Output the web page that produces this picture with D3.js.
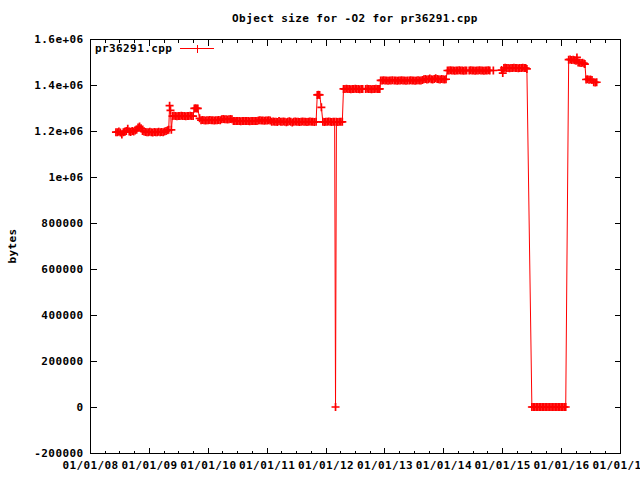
<!DOCTYPE html>
<html><head><meta charset="utf-8">
<script src="https://cdn.jsdelivr.net/npm/d3@7"></script>
<style>
body{margin:0;background:#fff}
svg text{font-family:"DejaVu Sans Mono","Liberation Mono",monospace;font-weight:bold;font-size:11px;letter-spacing:0.4px;fill:#000}
</style>
</head><body>
<svg id="chart" width="640" height="480"></svg>
<script>
const chartTitle = "Object size for -O2 for pr36291.cpp";
const seriesName = "pr36291.cpp";
const yAxisLabel = "bytes";
const yTickValues = [-200000, 0, 200000, 400000, 600000, 800000, 1000000, 1200000, 1400000, 1600000];
const yTickLabels = ["-200000", "0", "200000", "400000", "600000", "800000", "1e+06", "1.2e+06", "1.4e+06", "1.6e+06"];
const xTickYears = [2008, 2009, 2010, 2011, 2012, 2013, 2014, 2015, 2016, 2017];

// [decimal year, bytes]
const era2008 = [[2008.440,1195e3],[2008.465,1195e3],[2008.490,1198e3],[2008.515,1193e3],[2008.540,1185e3],[2008.565,1195e3],[2008.590,1197e3],[2008.615,1200e3],[2008.640,1210e3],[2008.665,1198e3],[2008.690,1196e3],[2008.715,1200e3],[2008.740,1198e3],[2008.765,1202e3],[2008.790,1205e3],[2008.815,1215e3],[2008.840,1220e3],[2008.865,1212e3],[2008.890,1200e3],[2008.915,1198e3],[2008.940,1196e3],[2008.965,1195e3],[2008.990,1195e3]];
const era2009 = [[2009.015,1197e3],[2009.040,1195e3],[2009.065,1194e3],[2009.090,1196e3],[2009.115,1195e3],[2009.140,1195e3],[2009.165,1197e3],[2009.190,1195e3],[2009.215,1196e3],[2009.240,1195e3],[2009.265,1198e3],[2009.290,1200e3],[2009.315,1203e3],[2009.335,1205e3],[2009.350,1310e3],[2009.365,1290e3],[2009.380,1205e3],[2009.400,1265e3],[2009.425,1266e3],[2009.450,1265e3],[2009.475,1264e3],[2009.500,1265e3],[2009.525,1265e3],[2009.550,1266e3],[2009.575,1265e3],[2009.600,1265e3],[2009.625,1264e3],[2009.650,1265e3],[2009.675,1265e3],[2009.700,1266e3],[2009.725,1265e3],[2009.750,1265e3],[2009.770,1298e3],[2009.790,1299e3],[2009.810,1298e3],[2009.830,1298e3],[2009.860,1255e3],[2009.885,1247e3],[2009.910,1248e3],[2009.935,1247e3],[2009.960,1246e3],[2009.985,1247e3]];
const era2010 = [[2010.010,1247e3],[2010.035,1248e3],[2010.060,1247e3],[2010.085,1247e3],[2010.110,1246e3],[2010.135,1247e3],[2010.160,1247e3],[2010.185,1248e3],[2010.210,1247e3],[2010.235,1251e3],[2010.260,1252e3],[2010.285,1251e3],[2010.310,1251e3],[2010.335,1250e3],[2010.360,1251e3],[2010.385,1252e3],[2010.410,1251e3],[2010.435,1243e3],[2010.460,1243e3],[2010.485,1244e3],[2010.510,1243e3],[2010.535,1243e3],[2010.560,1242e3],[2010.585,1243e3],[2010.610,1243e3],[2010.635,1244e3],[2010.660,1243e3],[2010.685,1243e3],[2010.710,1242e3],[2010.735,1243e3],[2010.760,1243e3],[2010.785,1244e3],[2010.810,1243e3],[2010.835,1243e3],[2010.860,1246e3],[2010.885,1247e3],[2010.910,1246e3],[2010.935,1246e3],[2010.960,1245e3],[2010.985,1246e3]];
const era2011 = [[2011.010,1246e3],[2011.035,1247e3],[2011.060,1246e3],[2011.085,1240e3],[2011.110,1241e3],[2011.135,1240e3],[2011.160,1240e3],[2011.185,1239e3],[2011.210,1243e3],[2011.235,1240e3],[2011.260,1240e3],[2011.285,1241e3],[2011.310,1240e3],[2011.335,1238e3],[2011.360,1240e3],[2011.385,1242e3],[2011.410,1240e3],[2011.435,1237e3],[2011.460,1240e3],[2011.485,1241e3],[2011.510,1240e3],[2011.535,1240e3],[2011.560,1239e3],[2011.585,1240e3],[2011.610,1241e3],[2011.635,1240e3],[2011.660,1240e3],[2011.685,1239e3],[2011.710,1240e3],[2011.735,1241e3],[2011.760,1240e3],[2011.785,1240e3],[2011.810,1239e3],[2011.840,1240e3],[2011.860,1357e3],[2011.880,1358e3],[2011.900,1357e3],[2011.930,1303e3],[2011.955,1240e3],[2011.980,1239e3]];
const era2012 = [[2012.005,1240e3],[2012.030,1240e3],[2012.055,1241e3],[2012.080,1240e3],[2012.105,1239e3],[2012.130,1240e3],[2012.155,1240e3],[2012.170,0],[2012.185,1240e3],[2012.210,1239e3],[2012.235,1240e3],[2012.260,1240e3],[2012.285,1240e3],[2012.305,1383e3],[2012.330,1383e3],[2012.355,1384e3],[2012.380,1383e3],[2012.405,1383e3],[2012.430,1382e3],[2012.455,1383e3],[2012.480,1383e3],[2012.505,1384e3],[2012.530,1383e3],[2012.555,1383e3],[2012.580,1382e3],[2012.605,1383e3],[2012.630,1383e3],[2012.680,1383e3],[2012.705,1384e3],[2012.730,1383e3],[2012.755,1383e3],[2012.780,1382e3],[2012.805,1383e3],[2012.830,1383e3],[2012.855,1384e3],[2012.880,1383e3],[2012.905,1383e3],[2012.920,1383e3],[2012.935,1420e3],[2012.960,1420e3],[2012.985,1421e3]];
const era2013 = [[2013.010,1420e3],[2013.035,1420e3],[2013.060,1419e3],[2013.085,1420e3],[2013.110,1420e3],[2013.135,1421e3],[2013.165,1420e3],[2013.190,1420e3],[2013.215,1419e3],[2013.240,1420e3],[2013.265,1420e3],[2013.290,1421e3],[2013.315,1420e3],[2013.340,1420e3],[2013.365,1419e3],[2013.390,1420e3],[2013.420,1420e3],[2013.445,1421e3],[2013.470,1420e3],[2013.495,1420e3],[2013.520,1419e3],[2013.545,1420e3],[2013.570,1421e3],[2013.595,1420e3],[2013.620,1420e3],[2013.645,1422e3],[2013.670,1425e3],[2013.695,1426e3],[2013.720,1424e3],[2013.745,1425e3],[2013.770,1428e3],[2013.795,1425e3],[2013.820,1424e3],[2013.845,1426e3],[2013.870,1429e3],[2013.895,1426e3],[2013.920,1425e3],[2013.945,1424e3],[2013.970,1426e3],[2013.995,1425e3]];
const era2014 = [[2014.020,1424e3],[2014.045,1425e3],[2014.070,1463e3],[2014.095,1463e3],[2014.120,1464e3],[2014.145,1463e3],[2014.170,1463e3],[2014.195,1462e3],[2014.220,1463e3],[2014.245,1463e3],[2014.270,1464e3],[2014.295,1463e3],[2014.320,1463e3],[2014.345,1462e3],[2014.370,1463e3],[2014.395,1463e3],[2014.440,1463e3],[2014.465,1464e3],[2014.490,1463e3],[2014.515,1463e3],[2014.540,1462e3],[2014.565,1463e3],[2014.590,1463e3],[2014.615,1464e3],[2014.640,1463e3],[2014.665,1463e3],[2014.690,1462e3],[2014.715,1463e3],[2014.740,1463e3],[2014.765,1464e3],[2014.790,1463e3],[2014.850,1463e3],[2014.990,1465e3]];
const era2015 = [[2015.010,1452e3],[2015.030,1474e3],[2015.050,1475e3],[2015.075,1474e3],[2015.100,1474e3],[2015.125,1473e3],[2015.150,1474e3],[2015.175,1474e3],[2015.200,1475e3],[2015.225,1474e3],[2015.250,1474e3],[2015.275,1473e3],[2015.300,1474e3],[2015.325,1474e3],[2015.350,1475e3],[2015.375,1474e3],[2015.400,1474e3],[2015.420,1470e3],[2015.505,0],[2015.530,0],[2015.555,0],[2015.580,0],[2015.605,0],[2015.630,0],[2015.655,0],[2015.680,0],[2015.705,0],[2015.730,0],[2015.755,0],[2015.780,0],[2015.805,0],[2015.830,0],[2015.855,0],[2015.880,0],[2015.905,0],[2015.930,0],[2015.955,0],[2015.980,0]];
const era2016 = [[2016.005,0],[2016.030,0],[2016.055,0],[2016.080,0],[2016.130,1510e3],[2016.155,1511e3],[2016.180,1509e3],[2016.205,1510e3],[2016.230,1508e3],[2016.255,1505e3],[2016.270,1520e3],[2016.290,1498e3],[2016.315,1497e3],[2016.340,1496e3],[2016.365,1497e3],[2016.390,1494e3],[2016.405,1491e3],[2016.425,1424e3],[2016.450,1425e3],[2016.475,1423e3],[2016.500,1424e3],[2016.525,1422e3],[2016.555,1412e3],[2016.580,1411e3],[2016.605,1412e3]];

const data = [].concat(era2008, era2009, era2010, era2011, era2012, era2013, era2014, era2015, era2016);

function toDate(yr) {
  const y0 = Math.floor(yr);
  const s = new Date(y0, 0, 1), e = new Date(y0 + 1, 0, 1);
  return new Date(+s + (yr - y0) * (e - s));
}

const L = 90, R = 620, T = 39, B = 453;
const svg = d3.select("#chart");
const x = d3.scaleTime().domain([new Date(2008,0,1), new Date(2017,0,1)]).range([L, R]);
const y = d3.scaleLinear().domain([-200000, 1600000]).range([B, T]);
const fmt = d3.timeFormat("%m/%d/%y");
const xMajor = xTickYears.map(v => new Date(v, 0, 1));
const xMinor = d3.timeMonth.every(3).range(new Date(2008,0,1), new Date(2017,0,2)).filter(d => d.getMonth() !== 0);

// frame
svg.append("rect").attr("x", L + 0.5).attr("y", T + 0.5).attr("width", R - L).attr("height", B - T)
  .attr("fill", "none").attr("stroke", "#000").attr("shape-rendering", "crispEdges");

function styleAxis(g) {
  g.select(".domain").remove();
  g.selectAll("line").attr("stroke", "#000").attr("shape-rendering", "crispEdges");
  g.selectAll("text").attr("font-family", null).attr("font-size", null);
}

svg.append("g").attr("transform", `translate(${L + 0.5},0)`)
  .call(d3.axisLeft(y).tickValues(yTickValues).tickFormat((d, i) => yTickLabels[i]).tickSize(-6).tickPadding(7))
  .call(styleAxis);
svg.append("g").attr("transform", `translate(${R + 0.5},0)`)
  .call(d3.axisRight(y).tickValues(yTickValues).tickFormat("").tickSize(-6))
  .call(styleAxis);
svg.append("g").attr("transform", `translate(0,${B + 0.5})`)
  .call(d3.axisBottom(x).tickValues(xMajor).tickFormat(fmt).tickSize(-6).tickPadding(8))
  .call(styleAxis);
svg.append("g").attr("transform", `translate(0,${B + 0.5})`)
  .call(d3.axisBottom(x).tickValues(xMinor).tickFormat("").tickSize(-3))
  .call(styleAxis);
svg.append("g").attr("transform", `translate(0,${T + 0.5})`)
  .call(d3.axisTop(x).tickValues(xMajor).tickFormat("").tickSize(-6))
  .call(styleAxis);
svg.append("g").attr("transform", `translate(0,${T + 0.5})`)
  .call(d3.axisTop(x).tickValues(xMinor).tickFormat("").tickSize(-3))
  .call(styleAxis);

// title & labels
svg.append("text").attr("x", (L + R) / 2).attr("y", 22).attr("text-anchor", "middle").text(chartTitle);
svg.append("text").attr("transform", `translate(16,${(T + B) / 2}) rotate(-90)`).attr("text-anchor", "middle").text(yAxisLabel);

// series
const red = "#ff0000";
const plot = svg.append("g");
plot.append("path").datum(data)
  .attr("d", d3.line().x(d => x(toDate(d[0]))).y(d => y(d[1])))
  .attr("fill", "none").attr("stroke", red).attr("stroke-width", 1);
const cross = "M-4,0H4M0,-4V4";
plot.selectAll("path.pt").data(data).join("path").attr("class", "pt")
  .attr("transform", d => `translate(${x(toDate(d[0]))},${y(d[1])})`)
  .attr("d", cross).attr("fill", "none").attr("stroke", red).attr("stroke-width", 1.7);

// legend
svg.append("text").attr("x", 95).attr("y", 52).text(seriesName);
svg.append("line").attr("x1", 180).attr("x2", 214).attr("y1", 48.5).attr("y2", 48.5).attr("stroke", red).attr("shape-rendering", "crispEdges");
svg.append("path").attr("transform", "translate(197.5,48.5)").attr("d", cross).attr("stroke", red).attr("fill", "none").attr("shape-rendering", "crispEdges");
</script>
</body></html>
